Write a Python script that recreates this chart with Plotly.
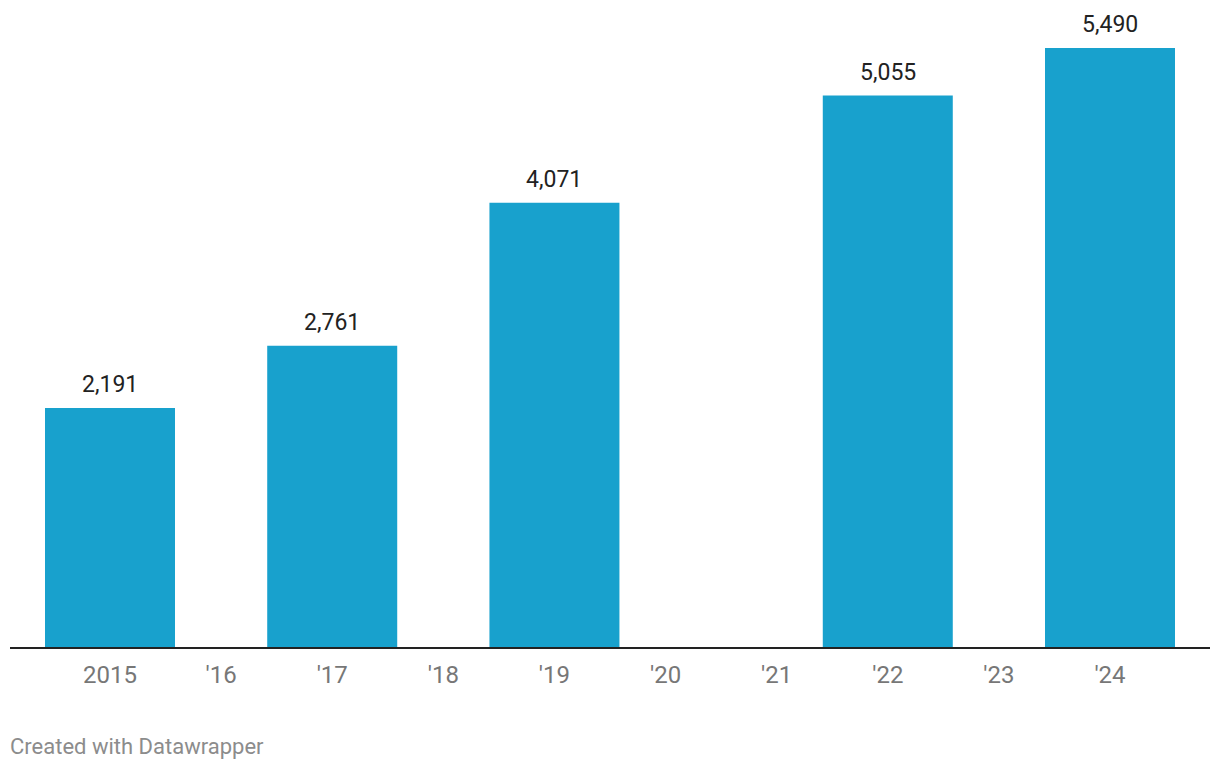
import plotly.graph_objects as go

years = ["2015", "'16", "'17", "'18", "'19", "'20", "'21", "'22", "'23", "'24"]
values = [2191, None, 2761, None, 4071, None, None, 5055, None, 5490]

BAR_COLOR = "#18a1cd"
FONT = "Roboto"

fig = go.Figure()
fig.add_trace(go.Bar(
    x=list(range(len(years))),
    y=values,
    width=[1.17] * len(years),
    marker=dict(color=BAR_COLOR, line=dict(width=0)),
    hoverinfo="skip",
))

annotations = []
for i, v in enumerate(values):
    if v is None:
        continue
    annotations.append(dict(
        x=i, y=v, xref="x", yref="y",
        text=f"{v:,}", showarrow=False,
        yanchor="bottom", yshift=8,
        font=dict(family=FONT, size=23, color="#222222"),
    ))

annotations.append(dict(
    x=0, y=0, xref="paper", yref="paper",
    xanchor="left", yanchor="middle", yshift=-99, xshift=-2,
    text="Created with Datawrapper", showarrow=False,
    font=dict(family=FONT, size=22, color="#8c8c8c"),
))

fig.update_layout(
    width=1212, height=762,
    margin=dict(l=2, r=10, t=0, b=123, pad=0),
    paper_bgcolor="white", plot_bgcolor="white",
    showlegend=False,
    annotations=annotations,
    xaxis=dict(
        tickmode="array",
        tickvals=list(range(len(years))),
        ticktext=years,
        range=[-0.9, 9.9],
        showgrid=False, zeroline=False,
        showline=True, linewidth=2, linecolor="#222222",
        ticks="", ticklabelstandoff=5,
        tickfont=dict(family=FONT, size=24, color="#777777"),
        fixedrange=True,
    ),
    yaxis=dict(
        range=[0, 5857],
        showgrid=False, zeroline=False, showline=False,
        showticklabels=False, ticks="",
        fixedrange=True,
    ),
)

fig.write_html("out.html")
